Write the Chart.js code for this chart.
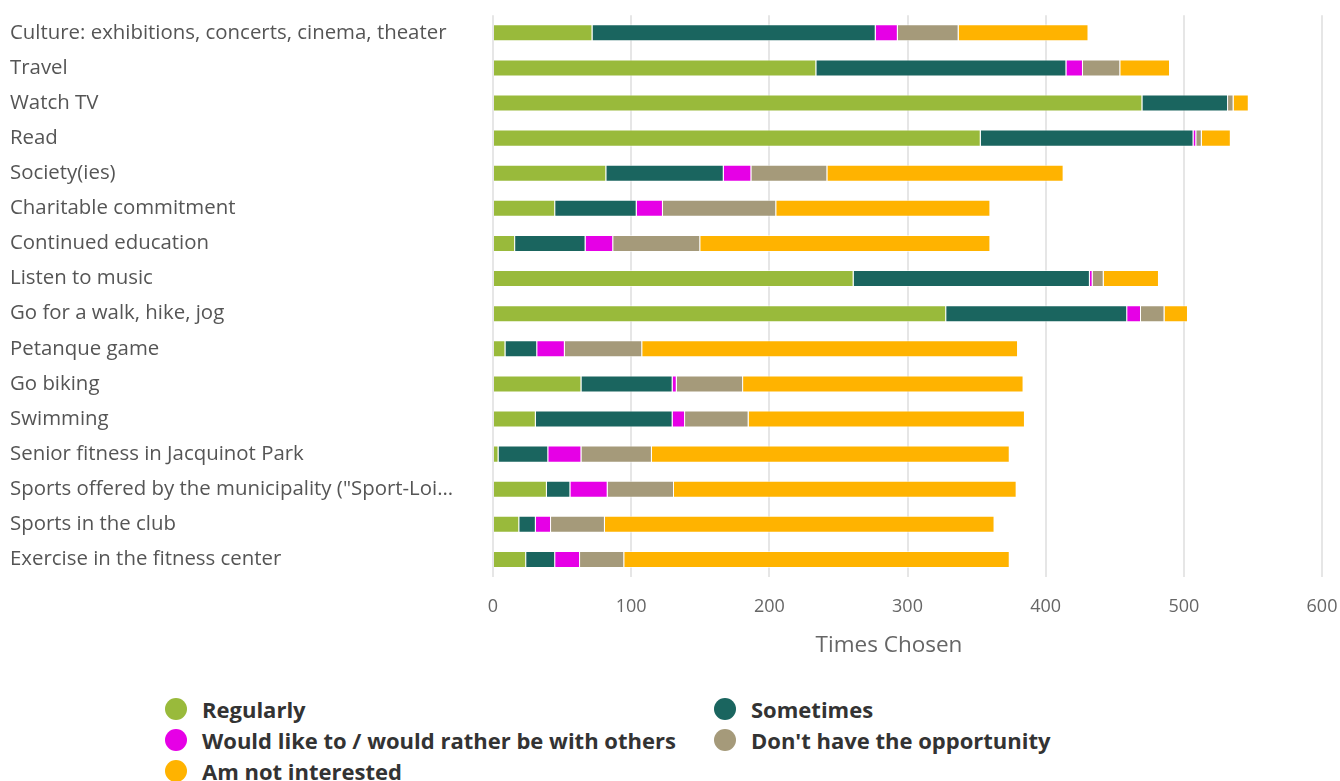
<!DOCTYPE html>
<html>
<head>
<meta charset="utf-8">
<script src="https://cdn.jsdelivr.net/npm/chart.js@4"></script>
<style>
  html, body { margin: 0; padding: 0; background: #fff; }
  #wrap { position: relative; width: 1340px; height: 781px; overflow: hidden; }
  #chartBox { position: absolute; left: 0; top: 0; width: 1340px; height: 658px; }
  #xTitle { position: absolute; left: 689px; width: 400px; top: 629px; text-align: center;
    font-family: "Open Sans", sans-serif; font-size: 22.5px; line-height: 30px; color: #666; }
  #legend { position: absolute; left: 165px; top: 697px; width: 1000px;
    display: grid; grid-template-columns: 549px 420px; row-gap: 7px;
    font-family: "Open Sans", sans-serif; font-weight: bold; font-size: 22px; color: #333; }
  .item { display: flex; align-items: center; height: 24px; white-space: nowrap; }
  .dot { width: 22px; height: 22px; border-radius: 50%; margin-right: 15px; flex: none; }
</style>
</head>
<body>
<div id="wrap">
  <div id="chartBox"><canvas id="c"></canvas></div>
  <div id="xTitle"></div>
  <div id="legend"></div>
</div>
<script>
const categories = [
  "Culture: exhibitions, concerts, cinema, theater",
  "Travel",
  "Watch TV",
  "Read",
  "Society(ies)",
  "Charitable commitment",
  "Continued education",
  "Listen to music",
  "Go for a walk, hike, jog",
  "Petanque game",
  "Go biking",
  "Swimming",
  "Senior fitness in Jacquinot Park",
  "Sports offered by the municipality (\"Sport-Loi…",
  "Sports in the club",
  "Exercise in the fitness center"
];
const seriesNames = ["Regularly", "Sometimes", "Would like to / would rather be with others", "Don't have the opportunity", "Am not interested"];
const regularly      = [72, 234, 470, 353, 82, 45, 16, 261, 328, 9, 64, 31, 4, 39, 19, 24];
const sometimes      = [205, 181, 62, 154, 85, 59, 51, 171, 131, 23, 66, 99, 36, 17, 12, 21];
const wouldLike      = [16, 12, 0, 2, 20, 19, 20, 2, 10, 20, 3, 9, 24, 27, 11, 18];
const noOpportunity  = [44, 27, 4, 4, 55, 82, 63, 8, 17, 56, 48, 46, 51, 48, 39, 32];
const notInterested  = [94, 36, 11, 21, 171, 155, 210, 40, 17, 272, 203, 200, 259, 248, 282, 279];
const xTicks = [0, 100, 200, 300, 400, 500, 600];
const xTitle = "Times Chosen";
const colors = ["#99BA3B", "#1A655F", "#E600E6", "#A59A7A", "#FFB300"];

const seriesData = [regularly, sometimes, wouldLike, noOpportunity, notInterested];
const datasets = seriesNames.map((n, i) => ({
  label: n,
  data: seriesData[i],
  backgroundColor: colors[i],
  borderColor: "rgba(255,255,255,0.55)",
  borderWidth: 1,
  barPercentage: 0.5,
  categoryPercentage: 0.97
}));

new Chart(document.getElementById("c"), {
  type: "bar",
  data: { labels: categories, datasets },
  options: {
    indexAxis: "y",
    responsive: true,
    maintainAspectRatio: false,
    animation: false,
    layout: { padding: { left: 10, right: 18, top: 13, bottom: 0 } },
    plugins: { legend: { display: false }, tooltip: { enabled: false } },
    scales: {
      x: {
        stacked: true, min: 0, max: 600,
        afterBuildTicks: s => { s.ticks = xTicks.map(v => ({ value: v })); },
        afterFit: s => { s.height = 81; s.paddingRight = 0; s.paddingLeft = 0; },
        grid: { color: "#e6e6e6", lineWidth: 2, drawTicks: false },
        border: { display: false },
        ticks: { color: "#666", font: { family: "Open Sans", size: 18 }, padding: 19 },
        title: { display: false }
      },
      y: {
        stacked: true,
        afterFit: s => { s.width = 483; },
        grid: { display: false },
        border: { display: false },
        ticks: { color: "#555", crossAlign: "far", font: { family: "Open Sans", size: 20.4 } }
      }
    }
  }
});

document.getElementById("xTitle").textContent = xTitle;
const lg = document.getElementById("legend");
seriesNames.forEach((n, i) => {
  const d = document.createElement("div");
  d.className = "item";
  d.innerHTML = '<span class="dot" style="background:' + colors[i] + '"></span><span></span>';
  d.lastChild.textContent = n;
  lg.appendChild(d);
});
</script>
</body>
</html>
